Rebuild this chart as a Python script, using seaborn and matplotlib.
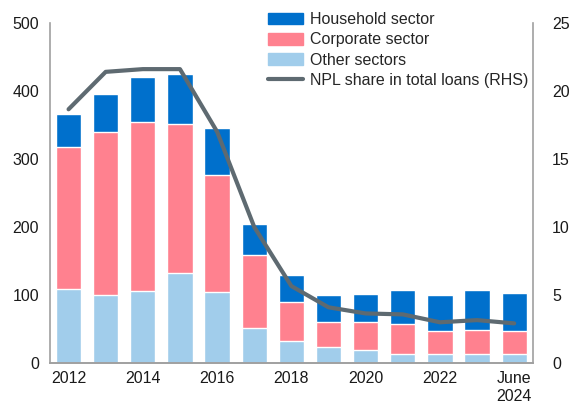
import numpy as np
import pandas as pd
import matplotlib
matplotlib.use("Agg")
import matplotlib.pyplot as plt
from matplotlib.patches import Patch
from matplotlib.lines import Line2D
import seaborn as sns

# Data (bn, stacked) and NPL share (%)
years = ["2012", "2013", "2014", "2015", "2016", "2017", "2018",
         "2019", "2020", "2021", "2022", "2023", "June\n2024"]
household = [48, 56, 67, 73, 70, 46, 39, 40, 41, 50, 53, 58.5, 56]
corporate = [209, 239, 248, 219, 172, 108, 57, 36, 41, 43, 33, 34.5, 33]
other = [109, 100, 106, 133, 104, 51, 33, 24, 19, 14, 14, 14, 14]
npl_share = [18.65, 21.4, 21.6, 21.6, 17.0, 10.0, 5.66, 4.1, 3.65, 3.58, 3.0, 3.16, 2.92]

col_house = "#0070CC"
col_corp = "#FF818F"
col_other = "#A1CDEB"
col_line = "#5E6A71"
col_axis = "#A0A0A0"

df = pd.DataFrame({"year": years, "household": household,
                   "corporate": corporate, "other": other, "npl": npl_share})
df["total"] = df["household"] + df["corporate"] + df["other"]
df["corp_other"] = df["corporate"] + df["other"]

sns.set_style("white")
plt.rcParams["font.family"] = ["Liberation Sans", "DejaVu Sans"]
plt.rcParams["font.size"] = 11.5

fig = plt.figure(figsize=(5.7, 4.08), dpi=100)
ax = fig.add_axes([0.0877, 0.110, 0.847, 0.834])

# stacked bars: draw cumulative totals back to front
sns.barplot(data=df, x="year", y="total", color=col_house, width=0.68,
            saturation=1, ax=ax)
sns.barplot(data=df, x="year", y="corp_other", color=col_corp, width=0.68,
            saturation=1, ax=ax)
sns.barplot(data=df, x="year", y="other", color=col_other, width=0.68,
            saturation=1, ax=ax)

ax.set_ylim(0, 500)
ax.set_yticks(range(0, 501, 100))
ax.set_xlim(-0.5, len(years) - 0.5)
ax.set_xlabel("")
ax.set_ylabel("")

pos = np.arange(len(years))
ax.set_xticks(pos[::2])
ax.set_xticklabels(years[::2])
ax.set_xticks(np.arange(-0.5, len(years)), minor=True)
ax.tick_params(axis="x", which="major", length=0, pad=6, colors="#1a1a1a")
ax.tick_params(axis="x", which="minor", length=4, width=1, color=col_axis, direction="out")
ax.tick_params(axis="y", length=0, pad=8, colors="#1a1a1a")

ax2 = ax.twinx()
sns.lineplot(x=pos, y=df["npl"], color=col_line, linewidth=3, ax=ax2)
ax2.set_ylim(0, 25)
ax2.set_yticks(range(0, 26, 5))
ax2.set_ylabel("")
ax2.tick_params(axis="y", length=0, pad=14, colors="#1a1a1a")

for a in (ax, ax2):
    a.spines["top"].set_visible(False)
    for s in ("left", "right", "bottom"):
        a.spines[s].set_color(col_axis)
        a.spines[s].set_linewidth(1.2)
ax.spines["right"].set_visible(False)
ax2.spines["left"].set_visible(False)

handles = [Patch(color=col_house, label="Household sector"),
           Patch(color=col_corp, label="Corporate sector"),
           Patch(color=col_other, label="Other sectors"),
           Line2D([0], [0], color=col_line, lw=3, label="NPL share in total loans (RHS)")]
ax2.legend(handles=handles, loc="upper right", bbox_to_anchor=(1.01, 1.06),
           frameon=False, fontsize=11.5, handlelength=2.2, handleheight=0.75,
           labelspacing=0.33, handletextpad=0.4, borderaxespad=0.2)

fig.savefig("out.png", dpi=100)
